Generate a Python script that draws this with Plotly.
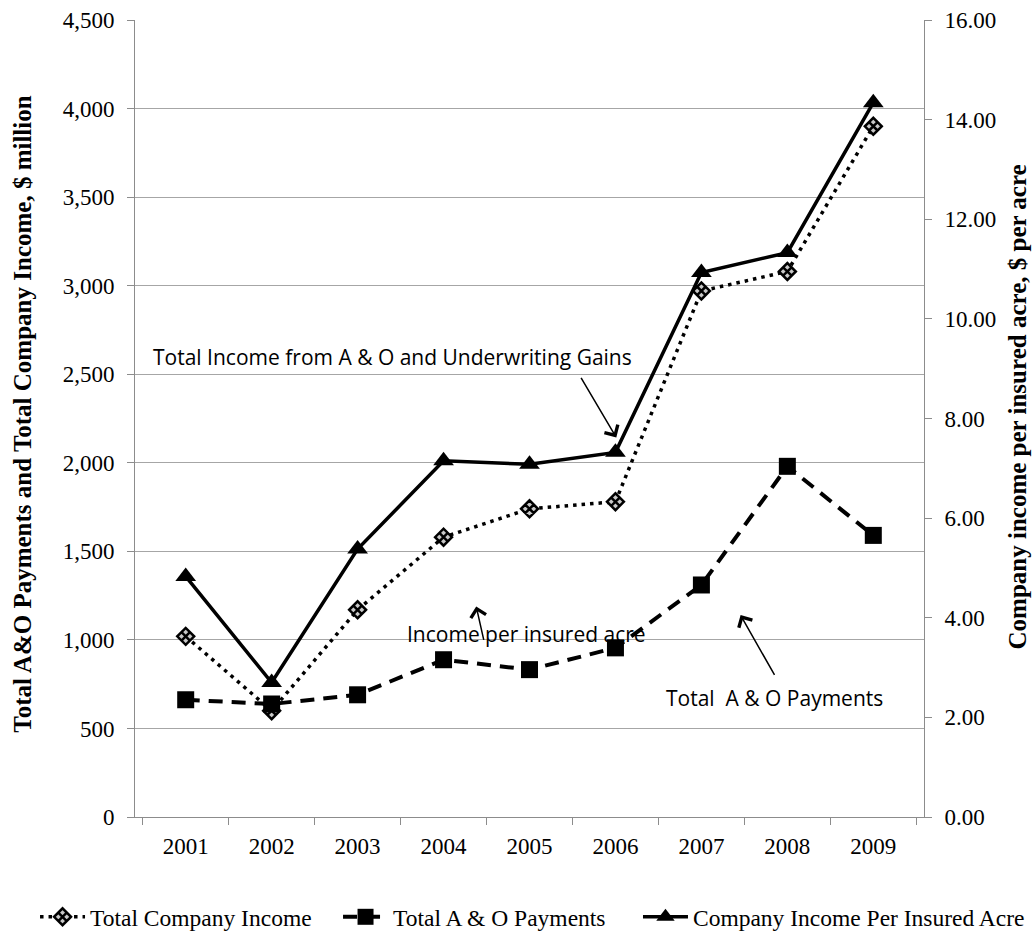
import plotly.graph_objects as go

# Crop insurance company income and A&O payments, 2001-2009
years = ["2001", "2002", "2003", "2004", "2005", "2006", "2007", "2008", "2009"]
total_company_income = [1020, 600, 1170, 1580, 1740, 1780, 2970, 3080, 3900]      # $ million
total_ao_payments = [662, 638, 690, 888, 832, 955, 1310, 1980, 1590]              # $ million
income_per_acre = [4.83, 2.70, 5.38, 7.15, 7.08, 7.32, 10.93, 11.33, 14.34]       # $ per insured acre

left_ticks = list(range(0, 4501, 500))
right_ticks = [0, 2, 4, 6, 8, 10, 12, 14, 16]

SERIF = "Liberation Serif, Times New Roman, serif"
SANS = "Open Sans, Noto Sans, sans-serif"
GRID = "#a6a6a6"
AXIS = "#8c8c8c"
TICK_FONT = dict(family=SERIF, size=23, color="black")
LEGEND_FONT = dict(family=SERIF, size=23.5, color="black")

fig = go.Figure()

fig.add_trace(go.Scatter(
    x=years, y=total_company_income, name="Total Company Income",
    mode="lines+markers", legend="legend",
    line=dict(color="black", width=3.5, dash="3.5px,5px"),
    marker=dict(symbol="diamond-x", size=13, color="#c8c8c8",
                line=dict(color="black", width=2.5)),
))
fig.add_trace(go.Scatter(
    x=years, y=total_ao_payments, name="Total A & O Payments",
    mode="lines+markers", legend="legend",
    line=dict(color="black", width=4, dash="14px,9px"),
    marker=dict(symbol="square", size=17, color="black"),
))
fig.add_trace(go.Scatter(
    x=years, y=income_per_acre, name="Company Income Per Insured Acre",
    mode="lines+markers", yaxis="y2", legend="legend2",
    line=dict(color="black", width=3.5),
    marker=dict(symbol="triangle-up", size=18, color="black"),
))

# callout arrows: tail (ax, ay) and head (x, y), both in data coordinates
arrow_style = dict(showarrow=True, arrowhead=4, arrowsize=2, arrowwidth=1.5,
                   arrowcolor="black", text="", xref="x", yref="y",
                   axref="x", ayref="y", xanchor="center", yanchor="middle",
                   borderpad=0, font=dict(size=1))

annotations = [
    # left axis title
    dict(text="<b>Total A&O Payments and Total Company Income, $ million</b>",
         xref="paper", yref="paper", x=-0.143, y=0.505, textangle=-90,
         showarrow=False, xanchor="center", yanchor="middle",
         font=dict(family=SERIF, size=25, color="black")),
    # right axis title
    dict(text="<b>Company income per insured acre, $ per acre</b>",
         xref="paper", yref="paper", x=1.119, y=0.515, textangle=-90,
         showarrow=False, xanchor="center", yanchor="middle",
         font=dict(family=SERIF, size=25, color="black")),
    # callout labels
    dict(text="Total Income from A & O and Underwriting Gains",
         x=2.41, y=2600, xref="x", yref="y", showarrow=False,
         font=dict(family=SANS, size=21, color="black")),
    dict(text="Income per insured acre",
         x=3.96, y=1031, xref="x", yref="y", showarrow=False,
         font=dict(family=SANS, size=21, color="black")),
    dict(text="Total\u00a0 A & O Payments",
         x=6.85, y=670, xref="x", yref="y", showarrow=False,
         font=dict(family=SANS, size=21, color="black")),
    dict(x=5.01, y=2143, ax=4.597, ay=2482, **arrow_style),
    dict(x=3.38, y=1189, ax=3.469, ay=997, **arrow_style),
    dict(x=6.456, y=1140, ax=6.854, ay=799, **arrow_style),
]

fig.update_layout(
    width=1036, height=952,
    margin=dict(l=135, r=112, t=20, b=135, autoexpand=False),
    paper_bgcolor="white", plot_bgcolor="white",
    showlegend=True,
    legend=dict(orientation="h", xref="paper", yref="paper",
                x=-0.1267, xanchor="left", y=-0.1255, yanchor="middle",
                itemwidth=45, entrywidth=243, entrywidthmode="pixels",
                font=LEGEND_FONT, bgcolor="rgba(0,0,0,0)"),
    legend2=dict(orientation="h", xref="paper", yref="paper",
                 x=0.6375, xanchor="left", y=-0.1255, yanchor="middle",
                 itemwidth=45, font=LEGEND_FONT, bgcolor="rgba(0,0,0,0)"),
    xaxis=dict(type="category", categoryorder="array", categoryarray=years,
               showgrid=False, showline=True, linecolor=AXIS, linewidth=1,
               ticks="outside", tickson="boundaries", ticklen=7, tickcolor=AXIS,
               ticklabelstandoff=8, tickfont=TICK_FONT, zeroline=False),
    yaxis=dict(range=[0, 4500], tickvals=left_ticks, tickformat=",d",
               showgrid=True, gridcolor=GRID, gridwidth=1,
               showline=True, linecolor=AXIS, linewidth=1,
               ticks="outside", ticklen=7, tickcolor=AXIS, zeroline=False,
               ticklabelstandoff=8, tickfont=TICK_FONT),
    yaxis2=dict(range=[0, 16], tickvals=right_ticks, tickformat=".2f",
                overlaying="y", side="right", showgrid=False,
                showline=True, linecolor=AXIS, linewidth=1,
                ticks="outside", ticklen=7, tickcolor=AXIS, zeroline=False,
                ticklabelstandoff=8, tickfont=TICK_FONT),
    annotations=annotations,
)

fig.write_html("out.html")
